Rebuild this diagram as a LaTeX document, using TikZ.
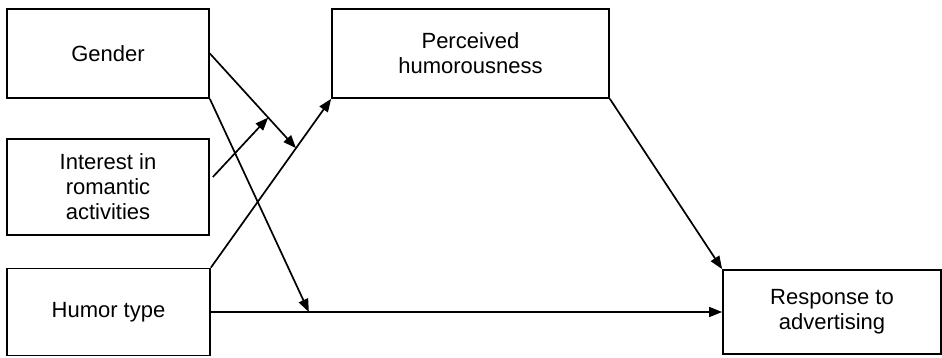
\documentclass[tikz,border=0pt]{standalone}
\usepackage{fontspec}
\setmainfont{Liberation Sans}
\usetikzlibrary{arrows.meta,calc}
\begin{document}
\begin{tikzpicture}[x=1pt,y=-1pt,
  box/.style={draw,line width=1.7pt,rectangle,inner sep=0pt,align=center,
    font=\fontsize{22}{25}\selectfont},
  conn/.style={line width=1.7pt,-{Triangle[length=13pt,width=10pt]}}]
\useasboundingbox (0,0) rectangle (942,358);
\node[box,minimum width=202pt,minimum height=89pt] (gender) at (108,53.5) {Gender};
\node[box,minimum width=202pt,minimum height=96pt] (interest) at (108,187) {Interest in\\romantic\\activities};
\node[box,minimum width=203pt,minimum height=87pt] (humor) at (108.5,312) {Humor type};
\node[box,minimum width=277pt,minimum height=89pt] (perc) at (470.5,53.5) {Perceived\\humorousness};
\node[box,minimum width=218pt,minimum height=84pt] (resp) at (832,312) {Response to\\advertising};
% paths
\draw[conn] (humor.north east) -- (perc.south west);
\coordinate (m1) at ($(humor.north east)!0.708!(perc.south west)$);
\draw[conn] (gender.east) -- (m1);
\coordinate (m2) at ($(gender.east)!0.677!(m1)$);
\coordinate (istart) at ($(interest.east)+(3,-10)$);
\draw[conn] (istart) -- (m2);
\draw[conn] (humor.east) -- (resp.west);
\coordinate (m3) at ($(humor.east)+(98,0)$);
\draw[conn] (gender.south east) -- (m3);
\draw[conn] (perc.south east) -- (resp.north west);
\end{tikzpicture}
\end{document}
